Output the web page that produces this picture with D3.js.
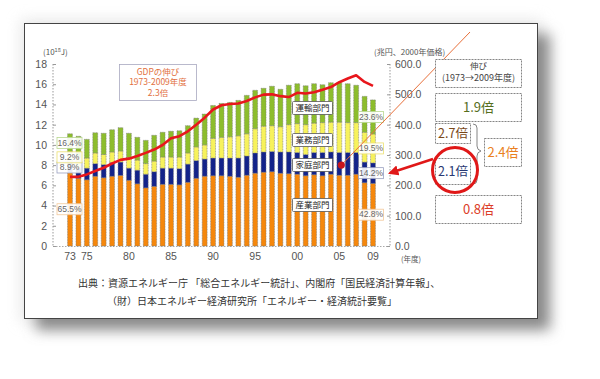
<!DOCTYPE html>
<html><head><meta charset="utf-8">
<script src="https://cdn.jsdelivr.net/npm/d3@7"></script>
<style>
body{margin:0;background:#fff}
svg{display:block}
text{font-family:"Noto Sans CJK JP","Noto Sans",sans-serif}
</style>
</head><body>
<svg id="c" width="600" height="379"></svg>
<script>
// ---------- data ----------
const years = d3.range(1973, 2010);
const industry  = [7.27,6.7,6.55,6.9,6.75,6.9,6.98,6.5,6.15,5.75,5.9,6.1,6.1,6.05,6.3,6.7,6.9,6.95,6.95,6.9,6.8,7.0,7.2,7.3,7.35,7.2,7.15,7.1,6.95,7.05,6.95,7.1,7.0,7.0,7.1,6.26,6.19];
const household = [0.99,1.0,1.15,1.25,1.3,1.35,1.32,1.2,1.35,1.35,1.45,1.6,1.6,1.6,1.8,1.75,1.7,1.75,1.75,1.8,1.9,1.9,2.0,2.0,2.0,2.1,2.15,2.15,2.1,2.2,2.3,2.2,2.25,2.25,2.15,2.04,2.03];
const business  = [1.02,1.1,1.0,1.05,1.0,1.05,1.1,1.05,1.0,1.05,1.05,1.1,1.1,1.15,1.1,1.35,1.4,1.95,2.05,2.1,2.2,2.2,2.4,2.55,2.55,2.5,2.7,2.85,2.95,2.9,2.95,2.95,3.0,2.95,2.95,2.95,2.86];
const transport = [1.82,2.05,1.85,2.0,2.1,2.2,2.3,2.4,2.25,2.3,2.55,2.45,2.55,2.6,2.7,2.85,3.05,3.25,3.35,3.4,3.5,3.8,3.8,3.75,3.9,3.7,3.9,3.95,3.85,3.9,3.75,3.9,3.9,3.85,3.7,3.55,3.37];
const gdp = [228,228,236,247,258,272,284,288,297,307,318,333,355,362,378,400,423,450,464,468,470,478,490,499,500,494,491,505,503,507,515,524,540,552,563,541,528];
const xTickYears = [1973,1975,1980,1985,1990,1995,2000,2005,2009];
const leftTicks = [0,2,4,6,8,10,12,14,16,18];
const rightTicks = [0,100,200,300,400,500,600];
const sectorKeys = ["industry","household","business","transport"];
const sectorNames = ["産業部門","家庭部門","業務部門","運輸部門"];
const sectorColors = ["#f5870c","#13238a","#f7f25c","#8dbd2c"];
const share1973 = ["65.5%","8.9%","9.2%","16.4%"];
const share2009 = ["42.8%","14.2%","19.5%","23.6%"];
const gdpNote = ["GDPの伸び","1973-2009年度","2.3倍"];
const growthHeader = ["伸び","(1973→2009年度)"];
const growth = ["1.9倍","2.7倍","2.1倍","2.4倍","0.8倍"];
const source = ["出典：資源エネルギー庁 「総合エネルギー統計」、内閣府「国民経済計算年報」、",
                "（財）日本エネルギー経済研究所「エネルギー・経済統計要覧」"];

// ---------- build ----------
const svg = d3.select("#c");
const defs = svg.append("defs");
const f = defs.append("filter").attr("id","sh").attr("x","-20%").attr("y","-20%").attr("width","140%").attr("height","140%");
f.append("feGaussianBlur").attr("stdDeviation",7);
const ah = defs.append("marker").attr("id","ah").attr("viewBox","0 0 10 10").attr("refX",8).attr("refY",5)
  .attr("markerWidth",4).attr("markerHeight",4).attr("orient","auto");
ah.append("path").attr("d","M0,0L10,5L0,10z").attr("fill","#e01818");

// frame + shadow
svg.append("rect").attr("x",20).attr("y",19).attr("width",522).attr("height",304).attr("fill","#ddd").attr("filter","url(#sh)").attr("opacity",0.6);
svg.append("rect").attr("x",36).attr("y",34).attr("width",514).attr("height",296).attr("fill","#8a8a8a").attr("filter","url(#sh)");
svg.append("rect").attr("x",24.5).attr("y",23.5).attr("width",513).attr("height",295).attr("fill","#fff").attr("stroke","#444").attr("stroke-width",1);

const table = years.map((y,i)=>({year:y,industry:industry[i],household:household[i],business:business[i],transport:transport[i]}));
const x = d3.scaleBand().domain(years).range([65.8,377.2]).paddingInner(0.42).paddingOuter(0.21);
const yL = d3.scaleLinear().domain([0,18]).range([246,64]);
const yR = d3.scaleLinear().domain([0,600]).range([246,64]);
const cx = d => x(d) + x.bandwidth()/2;

// axes lines
const g = svg.append("g");
g.append("line").attr("x1",53).attr("x2",53).attr("y1",yL(18)).attr("y2",yL(0)).attr("stroke","#999").attr("stroke-dasharray","1.5,1.5");
g.append("line").attr("x1",390).attr("x2",390).attr("y1",yR(600)).attr("y2",yR(0)).attr("stroke","#999").attr("stroke-dasharray","1.5,1.5");
g.append("line").attr("x1",53).attr("x2",390).attr("y1",yL(0)+0.5).attr("y2",yL(0)+0.5).attr("stroke","#aaa").attr("stroke-dasharray","1.5,1.5");

const axL = d3.axisLeft(yL).tickValues(leftTicks).tickSize(-3).tickPadding(6).tickFormat(d3.format("d"));
const gl = svg.append("g").attr("transform","translate(53,0)").call(axL);
gl.select(".domain").remove();
gl.selectAll(".tick line").attr("stroke","#999");
gl.selectAll("text").attr("fill","#555").style("font-size","10.5px").style("font-family","'Liberation Sans',Arial,sans-serif");

const axR = d3.axisRight(yR).tickValues(rightTicks).tickSize(-3).tickPadding(5).tickFormat(d3.format(".1f"));
const gr = svg.append("g").attr("transform","translate(390,0)").call(axR);
gr.select(".domain").remove();
gr.selectAll(".tick line").attr("stroke","#999");
gr.selectAll("text").attr("fill","#555").style("font-size","10.5px").style("font-family","'Liberation Sans',Arial,sans-serif");

const axB = d3.axisBottom(x).tickValues(xTickYears).tickSize(0).tickPadding(7).tickFormat(d => String(d).slice(2));
const gb = svg.append("g").attr("transform",`translate(0,${yL(0)})`).call(axB);
gb.select(".domain").remove();
gb.selectAll("text").attr("fill","#555").style("font-size","10.5px").style("font-family","'Liberation Sans',Arial,sans-serif");

// units
const u = svg.append("text").attr("x",43).attr("y",55).attr("fill","#555").style("font-size","8px");
u.append("tspan").text("(10");
u.append("tspan").attr("dy",-3).style("font-size","5.5px").text("18");
u.append("tspan").attr("dy",3).text("J)");
svg.append("text").attr("x",374).attr("y",55).attr("fill","#555").style("font-size","8px").text("(兆円、2000年価格)");
svg.append("text").attr("x",401).attr("y",262).attr("fill","#555").style("font-size","7.5px").text("(年度)");

// bars
const stack = d3.stack().keys(sectorKeys)(table);
svg.append("g").selectAll("g").data(stack).join("g")
  .attr("fill",(d,i)=>sectorColors[i])
  .selectAll("rect").data(d=>d).join("rect")
  .attr("x",d=>x(d.data.year)).attr("width",x.bandwidth())
  .attr("y",d=>yL(d[1])).attr("height",d=>yL(d[0])-yL(d[1]))
  .attr("stroke","#7a7a7a").attr("stroke-width",0.6).attr("stroke-dasharray","1,0.6");

// GDP line
svg.append("path").datum(gdp)
  .attr("d", d3.line().x((d,i)=>cx(years[i])).y(d=>yR(d)))
  .attr("fill","none").attr("stroke","#e8161c").attr("stroke-width",2.6).attr("stroke-linejoin","round");

// GDP note box
svg.append("rect").attr("x",119.5).attr("y",64.5).attr("width",77).attr("height",36).attr("fill","#fff").attr("stroke","#a8a8c0").attr("stroke-width",0.8);
gdpNote.forEach((t,i)=>svg.append("text").attr("x",158).attr("y",72.5+i*10.5).attr("text-anchor","middle").attr("dominant-baseline","middle")
  .attr("fill","#e2703e").style("font-size","8.5px").text(t));

// sector label boxes
const sectorLabelY = [205,165,140,108];
sectorNames.forEach((n,i)=>{
  svg.append("rect").attr("x",292.5).attr("y",sectorLabelY[i]-6.5).attr("width",40).attr("height",13).attr("fill","#fff").attr("stroke","#555").attr("stroke-width",0.8).attr("rx",1);
  svg.append("text").attr("x",312.5).attr("y",sectorLabelY[i]+0.5).attr("text-anchor","middle").attr("dominant-baseline","middle").attr("fill","#222").style("font-size","8.5px").text(n);
});

// share labels
const shareBorder = ["#f2c89a","#9aa0c0","#ece070","#b8d890"];
function shareLabels(col, shares, xLeft){
  col.forEach((s,i)=>{
    const ym = yL((s[0]+s[1])/2);
    svg.append("rect").attr("x",xLeft).attr("y",ym-5.5).attr("width",25).attr("height",11).attr("fill","#fff").attr("fill-opacity",0.9).attr("stroke",shareBorder[i]).attr("stroke-width",0.8);
    svg.append("text").attr("x",xLeft+12.5).attr("y",ym+0.5).attr("text-anchor","middle").attr("dominant-baseline","middle").attr("fill","#666").style("font-size","8.5px").style("font-family","'Liberation Sans',Arial,sans-serif").text(shares[i]);
  });
}
shareLabels(stack.map(s=>s[0]), share1973, 57);
shareLabels(stack.map(s=>s[s.length-1]), share2009, 358.5);

// annotation thin line + dot
const dotX = cx(2005)+2, dotY = yL(8.0);
svg.append("line").attr("x1",dotX).attr("y1",dotY).attr("x2",470).attr("y2",32).attr("stroke","#e8703a").attr("stroke-width",1);
svg.append("circle").attr("cx",dotX).attr("cy",dotY).attr("r",3.6).attr("fill","#c8141c");

// growth panel
const box = (x0,y0,w,h)=>svg.append("rect").attr("x",x0).attr("y",y0).attr("width",w).attr("height",h).attr("fill","#fff").attr("stroke","#666").attr("stroke-width",0.8).attr("stroke-dasharray","2,1");
box(435.5,59.5,86,28);
growthHeader.forEach((t,i)=>svg.append("text").attr("x",478.5).attr("y",66.5+i*12).attr("text-anchor","middle").attr("dominant-baseline","middle").attr("fill","#444").style("font-size",i?"9px":"8.5px").text(t));
const growthBoxes = [[435.5,93.5,86,28],[435.5,123.5,35,20],[435.5,158.5,35,26],[484.5,138.5,37,28],[435.5,195.5,86,28]];
const growthColors = ["#566e1c","#7a4818","#283872","#ea8020","#dc3c28"];
growthBoxes.forEach((b,i)=>{
  box(...b);
  svg.append("text").attr("x",b[0]+b[2]/2).attr("y",b[1]+b[3]/2+1).attr("text-anchor","middle").attr("dominant-baseline","middle")
    .attr("fill",growthColors[i]).style("font-size", i===1||i===2 ? "12.5px":"13px").text(growth[i]);
});
// brace
svg.append("path").attr("d","M473,124 Q477,124 477,128 L477,146 Q477,150 481,151 Q477,152 477,156 L477,180 Q477,184 473,184")
  .attr("fill","none").attr("stroke","#777").attr("stroke-width",0.9);
// red circle + arrow
svg.append("circle").attr("cx",455).attr("cy",170).attr("r",22.5).attr("fill","none").attr("stroke","#e01818").attr("stroke-width",3);
svg.append("line").attr("x1",433).attr("y1",159).attr("x2",390).attr("y2",173).attr("stroke","#e01818").attr("stroke-width",2.6).attr("marker-end","url(#ah)");

// source
svg.append("text").attr("x",78).attr("y",287).attr("fill","#333").style("font-size","10px").text(source[0]);
svg.append("text").attr("x",107).attr("y",305).attr("fill","#333").style("font-size","10px").text(source[1]);
</script>
</body></html>
